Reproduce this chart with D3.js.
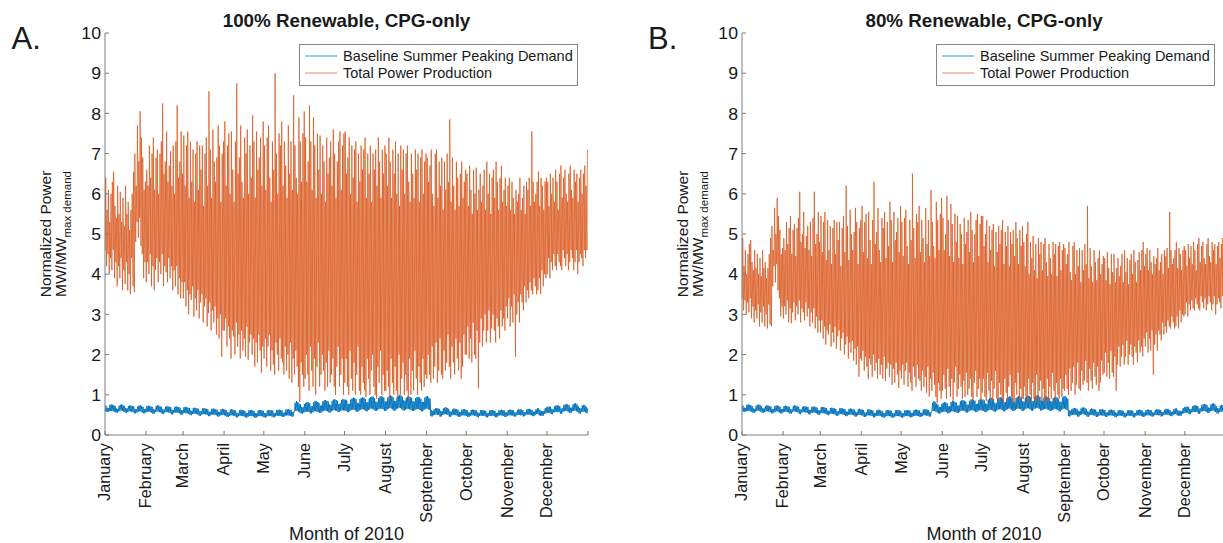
<!DOCTYPE html>
<html>
<head>
<meta charset="utf-8">
<script src="https://cdn.jsdelivr.net/npm/d3@7"></script>
<style>
  html, body { margin: 0; padding: 0; background: #fff; }
  svg { display: block; font-family: "Liberation Sans", Arial, Helvetica, sans-serif; }
</style>
</head>
<body>
<svg id="chart" width="1223" height="543"></svg>
<script>
// ---------------------------------------------------------------------------
// Data: one value per day of 2010 (Jan 1 = day 0), grouped by month.
// Production series hold the daily peak and daily trough of total output;
// the demand series holds the daily high and low of the baseline load.
// Units: MW / MW of max demand.
// ---------------------------------------------------------------------------
const monthLabels = ["January", "February", "March", "April", "May", "June",
  "July", "August", "September", "October", "November", "December"];
const monthStartDay = [0, 31, 59, 90, 120, 151, 181, 212, 243, 273, 304, 334];
const daysInYear = 365;
const yTickValues = [0, 1, 2, 3, 4, 5, 6, 7, 8, 9, 10];
const seriesNames = ["Baseline Summer Peaking Demand", "Total Power Production"];

// hour of day at which each daily extreme is placed
const demandLowHour = 4, demandHighHour = 17;
const prodLowHour = 5, prodPeakHour = 13;

// Baseline summer-peaking demand (same in both scenarios)
const demandHigh = [
  [0.73,0.68,0.67,0.75,0.76,0.75,0.74,0.72,0.66,0.65,0.73,0.75,0.76,0.74,0.72,0.67,0.66,0.72,0.74,0.73,0.72,0.71,0.65,0.64,0.71,0.73,0.74,0.72,0.70,0.64,0.65],
  [0.72,0.73,0.72,0.71,0.70,0.64,0.63,0.72,0.74,0.73,0.71,0.70,0.64,0.63,0.70,0.72,0.71,0.70,0.69,0.63,0.62,0.70,0.71,0.70,0.69,0.68,0.62,0.61],
  [0.69,0.70,0.69,0.68,0.67,0.61,0.60,0.67,0.68,0.67,0.66,0.65,0.59,0.59,0.66,0.67,0.66,0.65,0.64,0.58,0.58,0.65,0.66,0.65,0.64,0.63,0.58,0.57,0.64,0.65,0.64],
  [0.63,0.62,0.56,0.56,0.63,0.64,0.63,0.62,0.61,0.55,0.55,0.62,0.63,0.62,0.61,0.60,0.55,0.54,0.61,0.62,0.62,0.61,0.60,0.54,0.54,0.61,0.62,0.62,0.61,0.60],
  [0.55,0.54,0.61,0.62,0.62,0.61,0.61,0.55,0.55,0.62,0.63,0.63,0.62,0.61,0.55,0.56,0.63,0.64,0.64,0.63,0.62,0.57,0.58,0.80,0.84,0.82,0.78,0.76,0.70,0.69,0.77],
  [0.80,0.82,0.81,0.79,0.71,0.72,0.82,0.85,0.84,0.82,0.80,0.73,0.74,0.84,0.86,0.87,0.85,0.83,0.76,0.75,0.85,0.88,0.89,0.87,0.85,0.77,0.78,0.87,0.90,0.88],
  [0.88,0.86,0.78,0.77,0.88,0.91,0.93,0.92,0.89,0.80,0.79,0.90,0.92,0.94,0.93,0.90,0.81,0.82,0.91,0.94,0.96,0.95,0.92,0.83,0.82,0.92,0.95,0.97,0.95,0.93,0.84],
  [0.83,0.93,0.96,0.98,0.97,0.94,0.85,0.84,0.94,0.97,1.00,0.98,0.95,0.86,0.85,0.93,0.95,0.96,0.94,0.92,0.84,0.83,0.92,0.94,0.95,0.93,0.90,0.83,0.82,0.93,0.96],
  [0.97,0.93,0.90,0.62,0.60,0.64,0.66,0.67,0.66,0.65,0.60,0.59,0.66,0.68,0.69,0.67,0.65,0.59,0.58,0.64,0.66,0.65,0.64,0.63,0.58,0.57,0.63,0.64,0.64,0.63],
  [0.62,0.56,0.56,0.62,0.63,0.63,0.62,0.61,0.56,0.55,0.61,0.62,0.62,0.61,0.60,0.55,0.55,0.61,0.62,0.62,0.61,0.60,0.55,0.55,0.61,0.62,0.63,0.62,0.61,0.56,0.56],
  [0.62,0.63,0.63,0.62,0.61,0.56,0.56,0.62,0.64,0.64,0.63,0.62,0.57,0.57,0.63,0.65,0.65,0.64,0.62,0.58,0.58,0.64,0.66,0.66,0.62,0.60,0.59,0.60,0.67,0.69],
  [0.70,0.71,0.70,0.65,0.64,0.71,0.73,0.74,0.73,0.72,0.66,0.66,0.74,0.76,0.77,0.76,0.74,0.68,0.68,0.76,0.78,0.79,0.76,0.72,0.67,0.66,0.73,0.75,0.74,0.70,0.66]
].flat();

const demandLow = [
  [0.60,0.58,0.57,0.59,0.60,0.60,0.59,0.58,0.56,0.55,0.58,0.60,0.61,0.60,0.58,0.56,0.55,0.57,0.59,0.59,0.58,0.57,0.54,0.54,0.56,0.58,0.59,0.58,0.56,0.54,0.54],
  [0.57,0.58,0.58,0.57,0.56,0.53,0.53,0.57,0.59,0.58,0.57,0.56,0.53,0.52,0.56,0.57,0.57,0.56,0.55,0.52,0.51,0.55,0.56,0.56,0.55,0.54,0.51,0.50],
  [0.54,0.55,0.54,0.54,0.53,0.50,0.49,0.52,0.53,0.53,0.52,0.51,0.48,0.48,0.51,0.52,0.52,0.51,0.50,0.47,0.47,0.50,0.51,0.51,0.50,0.49,0.46,0.46,0.49,0.50,0.50],
  [0.49,0.48,0.45,0.45,0.48,0.49,0.49,0.48,0.47,0.44,0.44,0.47,0.48,0.48,0.47,0.46,0.44,0.43,0.46,0.47,0.47,0.47,0.46,0.43,0.43,0.46,0.47,0.47,0.47,0.46],
  [0.44,0.43,0.46,0.47,0.47,0.47,0.46,0.44,0.44,0.47,0.48,0.48,0.47,0.47,0.45,0.45,0.48,0.49,0.49,0.48,0.48,0.46,0.46,0.58,0.60,0.60,0.58,0.56,0.54,0.53,0.56],
  [0.57,0.58,0.58,0.57,0.54,0.54,0.57,0.59,0.59,0.58,0.57,0.55,0.55,0.58,0.60,0.61,0.60,0.59,0.56,0.56,0.59,0.61,0.62,0.61,0.60,0.57,0.57,0.60,0.62,0.61],
  [0.61,0.60,0.57,0.57,0.60,0.62,0.63,0.63,0.61,0.58,0.58,0.61,0.63,0.64,0.64,0.62,0.59,0.59,0.62,0.64,0.66,0.65,0.63,0.60,0.60,0.62,0.65,0.66,0.65,0.64,0.60],
  [0.60,0.63,0.65,0.67,0.66,0.64,0.61,0.60,0.64,0.66,0.68,0.67,0.65,0.61,0.61,0.63,0.65,0.65,0.64,0.63,0.60,0.60,0.62,0.64,0.65,0.64,0.62,0.59,0.59,0.63,0.65],
  [0.66,0.64,0.62,0.47,0.46,0.49,0.50,0.51,0.50,0.50,0.46,0.46,0.50,0.51,0.52,0.51,0.50,0.46,0.45,0.49,0.50,0.50,0.49,0.48,0.45,0.45,0.48,0.49,0.49,0.48],
  [0.48,0.45,0.45,0.48,0.49,0.49,0.48,0.48,0.45,0.44,0.47,0.48,0.48,0.48,0.47,0.44,0.44,0.47,0.48,0.48,0.48,0.47,0.44,0.44,0.48,0.49,0.49,0.48,0.48,0.45,0.45],
  [0.48,0.49,0.49,0.49,0.48,0.46,0.46,0.49,0.50,0.50,0.49,0.49,0.46,0.47,0.50,0.51,0.51,0.50,0.49,0.47,0.47,0.50,0.52,0.52,0.49,0.48,0.48,0.48,0.53,0.54],
  [0.55,0.56,0.55,0.52,0.52,0.56,0.57,0.58,0.57,0.57,0.53,0.53,0.58,0.59,0.60,0.59,0.58,0.55,0.55,0.59,0.60,0.61,0.59,0.57,0.54,0.53,0.57,0.58,0.58,0.56,0.54]
].flat();

// Total power production, 100% renewable scenario
const prodPeakA = [
  [6.4,5.6,6.1,5.3,6.0,6.3,6.55,5.7,5.4,6.2,5.5,6.05,5.3,5.9,5.2,6.2,5.5,5.8,5.1,5.6,6.0,6.55,7.0,6.2,7.7,6.8,8.05,7.4,6.9,6.1,6.3],
  [6.6,6.2,7.2,6.4,7.0,7.4,6.1,6.9,7.1,6.0,7.0,7.3,8.25,6.5,6.8,7.55,6.3,6.7,7.05,6.2,7.2,6.0,7.3,8.2,6.4,6.8,7.55,6.5],
  [7.45,6.2,7.2,7.55,5.9,7.3,6.3,7.1,5.8,7.0,7.3,6.1,7.2,6.6,7.2,5.7,7.0,7.4,6.2,8.55,7.1,5.9,7.6,6.8,6.3,6.9,7.7,7.2,5.8,7.0,7.3],
  [7.8,6.2,7.2,7.5,6.0,7.55,6.6,5.8,7.3,8.75,6.5,6.9,7.7,6.3,5.9,7.4,7.0,7.6,6.0,7.2,6.4,7.95,7.3,5.9,7.55,6.6,6.9,7.4,6.2,7.8],
  [7.2,6.1,7.4,7.7,6.4,5.8,7.3,6.6,9.0,7.0,6.0,7.5,7.2,7.8,6.2,7.3,6.7,5.9,7.7,6.5,7.3,6.1,8.45,7.2,6.4,6.0,7.9,7.3,6.3,7.5,8.05],
  [7.4,6.3,6.8,8.2,7.3,6.1,7.9,7.2,5.9,7.5,6.6,7.45,6.0,7.2,6.8,5.8,7.4,6.5,6.9,7.3,6.2,7.6,7.0,5.9,6.8,7.3,7.55,6.1,7.2,7.5],
  [7.55,6.5,6.9,7.4,6.0,7.2,6.4,7.1,7.3,5.8,7.0,6.3,7.2,6.6,7.1,7.4,5.9,7.0,6.5,7.2,5.8,7.0,6.6,7.1,6.2,7.4,6.8,5.9,7.1,6.5,7.2],
  [7.0,6.2,7.4,6.8,5.9,7.1,6.5,7.3,6.0,7.0,5.7,7.2,6.6,7.1,6.0,7.0,7.2,6.3,5.8,7.0,6.5,5.9,7.1,6.6,7.0,5.8,6.9,7.1,6.0,6.8,7.0],
  [6.9,6.3,6.7,7.1,6.0,5.7,7.0,7.1,5.9,6.8,6.2,6.9,5.6,6.8,6.1,7.0,6.3,7.85,5.8,6.9,6.2,5.6,6.8,6.4,5.7,6.5,6.8,5.9,6.3,6.6],
  [6.5,5.7,6.7,6.1,5.5,6.6,6.0,6.65,5.6,6.1,6.5,5.8,6.2,6.6,5.6,6.8,6.0,6.5,5.5,6.4,6.6,5.9,6.8,6.3,5.6,6.4,6.7,5.8,6.1,6.4,5.7],
  [6.2,6.4,5.6,6.3,5.9,5.5,6.1,5.8,6.0,6.4,5.6,5.9,6.2,5.5,6.3,6.1,6.4,5.7,7.55,6.3,5.8,6.0,6.3,6.55,5.7,6.4,6.2,5.6,6.3,6.4],
  [6.3,5.7,6.5,6.0,6.4,5.8,6.6,6.3,5.6,6.5,6.7,5.9,6.4,6.6,6.0,5.8,6.5,6.7,6.1,5.9,6.6,6.3,6.5,5.8,6.4,6.6,6.0,6.5,6.7,6.2,7.1]
].flat();

const prodLowA = [
  [4.6,4.2,4.5,4.0,4.4,4.1,4.6,3.9,4.3,3.7,4.2,3.9,4.4,3.6,4.1,3.75,4.3,3.6,4.0,3.5,4.4,3.7,3.55,4.8,5.3,4.9,5.4,4.7,4.5,3.9,4.3],
  [3.8,4.3,4.0,4.5,3.7,4.2,3.6,4.1,4.4,3.8,4.3,4.0,4.5,3.7,4.2,4.05,3.8,4.4,3.9,4.2,3.6,4.1,3.7,4.2,3.5,3.9,3.4,3.8],
  [3.4,3.8,3.2,3.6,3.0,3.5,3.36,3.7,2.94,3.4,3.1,3.6,2.9,3.3,3.5,2.8,3.2,3.4,2.7,3.03,3.3,2.6,3.1,2.8,3.2,2.5,2.9,2.4,3.0,1.95,2.6],
  [2.6,2.9,2.2,2.7,2.4,1.9,2.6,2.45,2.0,2.8,2.2,2.5,1.9,2.6,2.1,2.4,1.95,2.7,1.87,2.3,2.5,2.0,2.4,1.7,2.3,1.8,2.5,2.1,1.55,2.2],
  [1.9,2.4,1.7,2.2,2.5,1.6,2.1,1.75,1.5,2.3,2.0,1.6,2.4,1.9,1.8,1.5,2.2,1.6,2.0,1.4,2.3,1.3,1.9,1.5,2.1,1.7,1.2,0.83,1.8,1.5,1.2],
  [1.4,2.0,1.5,1.1,2.2,1.6,1.2,1.9,1.0,1.7,2.3,1.2,1.5,2.0,1.6,1.1,1.8,1.2,2.1,1.3,1.5,1.9,1.2,1.0,1.7,2.2,1.2,1.5,1.9,1.0],
  [1.3,1.9,1.2,1.0,2.1,1.4,1.1,1.8,1.0,1.5,2.2,1.1,1.0,1.7,1.3,1.1,0.95,1.9,1.4,1.0,1.6,2.0,1.2,1.0,0.9,1.7,1.3,2.1,1.0,1.5,1.1],
  [1.1,1.6,1.2,0.9,1.9,1.3,1.0,1.7,1.1,0.95,2.0,1.0,1.4,1.8,1.0,1.5,1.1,0.9,1.9,1.0,1.6,1.1,2.1,1.4,1.0,1.7,1.3,1.1,1.9,1.2,1.5],
  [1.4,2.0,1.5,1.3,2.2,1.4,1.7,2.3,1.3,1.6,2.4,1.5,1.4,2.1,1.6,1.8,2.5,1.7,1.4,2.2,1.8,1.5,2.4,1.9,1.6,2.3,1.4,1.7,2.5,2.0],
  [2.0,2.7,1.9,2.4,1.8,2.8,2.0,1.9,2.6,1.16,2.3,2.9,2.2,2.6,3.0,2.3,2.6,3.1,2.3,2.65,3.0,2.6,2.3,2.9,2.7,2.4,3.1,2.7,2.9,2.6,3.2],
  [2.9,3.4,2.7,3.2,2.8,3.5,1.95,3.0,3.3,2.8,3.5,3.3,3.1,3.7,3.3,3.6,3.4,3.8,3.6,3.5,3.9,3.7,3.5,3.6,3.9,3.5,4.1,3.7,4.0,3.9],
  [4.0,4.4,3.9,4.3,4.1,4.5,4.2,4.1,4.5,4.3,4.2,4.1,4.6,4.4,4.2,4.5,4.1,4.3,4.6,4.4,4.1,4.3,4.6,4.0,4.3,4.5,4.4,4.2,4.6,4.4,4.6]
].flat();

// Total power production, 80% renewable scenario
const prodPeakB = [
  [4.9,4.2,4.6,4.0,4.5,4.75,4.85,4.3,4.1,4.6,4.15,4.5,4.0,4.4,3.95,4.6,4.15,4.3,3.9,4.15,4.5,4.9,5.2,4.6,5.65,5.0,5.9,5.45,5.1,4.5,4.65],
  [4.9,4.6,5.3,4.75,5.15,5.45,4.5,5.1,5.25,4.45,5.15,5.4,6.05,4.8,5.0,5.55,4.65,4.95,5.2,4.6,5.3,4.45,5.4,6.05,4.75,5.0,5.55,4.8],
  [5.45,4.55,5.3,5.55,4.35,5.35,4.6,5.2,4.25,5.15,5.35,4.5,5.3,4.85,5.3,4.2,5.15,5.45,4.55,6.2,5.2,4.35,5.6,5.0,4.6,5.05,5.65,5.3,4.25,5.15,5.35],
  [5.7,4.55,5.3,5.5,4.4,5.55,4.85,4.25,5.35,6.3,4.75,5.05,5.65,4.6,4.3,5.4,5.15,5.55,4.4,5.3,4.7,5.8,5.35,4.3,5.55,4.85,5.05,5.4,4.55,5.7],
  [5.3,4.45,5.4,5.6,4.7,4.25,5.35,4.85,6.5,5.15,4.4,5.5,5.3,5.7,4.55,5.35,4.9,4.3,5.65,4.75,5.35,4.45,6.1,5.3,4.7,4.4,5.8,5.35,4.6,5.5,5.9],
  [5.4,4.6,5.0,5.95,5.35,4.45,5.75,5.25,4.3,5.5,4.8,5.45,4.4,5.25,5.0,4.25,5.4,4.75,5.05,5.35,4.55,5.55,5.1,4.3,5.0,5.35,5.5,4.45,5.25,5.45],
  [5.45,4.7,5.0,5.35,4.3,5.2,4.6,5.1,5.25,4.2,5.05,4.55,5.2,4.75,5.1,5.35,4.25,5.05,4.7,5.2,4.2,5.05,4.75,5.1,4.45,5.3,4.9,4.25,5.1,4.7,5.2],
  [4.8,4.2,5.0,5.3,4.0,4.8,4.4,4.95,4.1,4.75,3.9,4.9,4.5,4.8,4.1,4.75,4.9,4.3,3.95,4.75,4.4,4.0,4.8,4.5,4.75,3.95,4.7,4.8,4.1,4.6,4.75],
  [4.65,4.25,4.5,4.8,4.05,3.85,4.7,4.8,4.0,4.6,4.2,4.65,3.8,4.6,4.1,4.75,4.25,5.7,3.9,4.65,4.2,3.8,4.6,4.3,3.85,4.4,4.6,4.0,4.25,4.45],
  [4.4,3.85,4.55,4.15,3.75,4.5,4.05,4.5,3.8,4.15,4.4,3.95,4.2,4.5,3.8,4.6,4.05,4.4,3.75,4.35,4.5,4.0,4.6,4.3,3.8,4.35,4.55,4.1,4.6,4.8,4.2],
  [4.5,4.65,4.1,4.6,4.3,4.0,4.45,4.25,4.4,4.65,4.1,4.3,4.5,4.0,4.6,4.45,4.65,4.15,5.55,4.6,4.25,4.4,4.6,4.8,4.15,4.65,4.5,4.1,4.6,4.7],
  [4.6,4.2,4.75,4.4,4.7,4.25,4.8,4.6,4.1,4.75,4.9,4.3,4.7,4.8,4.4,4.25,4.75,4.9,4.45,4.3,4.8,4.6,4.75,4.25,4.7,4.8,4.4,4.75,4.9,4.55,5.0]
].flat();

const prodLowB = [
  [3.4,3.1,3.35,3.0,3.3,3.05,3.4,2.9,3.2,2.8,3.1,2.9,3.25,2.7,3.05,2.8,3.2,2.7,3.0,2.65,3.25,2.75,2.7,3.7,4.2,3.8,4.25,3.6,3.4,2.95,3.2],
  [2.9,3.2,3.0,3.35,2.8,3.15,2.78,3.05,3.3,2.85,3.2,3.0,3.35,2.8,3.15,3.05,2.85,3.3,2.95,3.15,2.7,3.05,2.8,3.15,2.65,2.95,2.55,2.85],
  [2.55,2.85,2.4,2.7,2.25,2.6,2.5,2.75,2.2,2.55,2.3,2.7,2.15,2.45,2.6,2.1,2.4,2.55,2.0,2.25,2.45,1.9,2.3,2.05,2.35,1.85,2.15,1.75,2.2,1.45,1.9],
  [1.85,2.1,1.6,1.95,1.7,1.4,1.9,1.75,1.45,2.0,1.6,1.8,1.4,1.9,1.5,1.75,1.4,1.95,1.35,1.65,1.8,1.45,1.75,1.25,1.65,1.3,1.8,1.5,1.17,1.6],
  [1.4,1.75,1.25,1.6,1.8,1.2,1.55,1.3,1.1,1.7,1.45,1.2,1.75,1.4,1.35,1.1,1.6,1.2,1.45,1.05,1.7,0.96,1.4,1.1,1.55,1.25,0.95,0.8,1.3,1.1,0.9],
  [1.1,1.5,1.15,0.9,1.65,1.2,0.95,1.4,0.85,1.3,1.7,0.95,1.15,1.5,1.2,0.9,1.35,0.95,1.55,1.0,1.15,1.4,0.95,0.85,1.3,1.6,0.95,1.15,1.4,0.85],
  [1.05,1.4,0.95,0.85,1.55,1.1,0.9,1.35,0.85,1.15,1.6,0.9,0.85,1.3,1.0,0.9,0.8,1.4,1.05,0.85,1.2,1.5,0.95,0.85,0.8,1.3,1.0,1.55,0.85,1.15,0.9],
  [0.9,1.2,0.95,0.8,1.4,1.0,0.85,1.3,0.9,0.8,1.5,0.85,1.1,1.35,0.85,1.15,0.9,0.8,1.4,0.85,1.2,0.9,1.55,1.1,0.85,1.3,1.0,0.9,1.4,0.95,1.15],
  [1.1,1.5,1.15,1.0,1.65,1.1,1.3,1.7,1.0,1.25,1.8,1.15,1.1,1.6,1.25,1.35,1.85,1.3,1.1,1.65,1.35,1.15,1.8,1.45,1.25,1.7,1.1,1.3,1.85,1.5],
  [1.55,2.05,1.45,1.8,1.4,2.1,1.55,1.45,1.95,1.1,1.75,2.2,1.7,1.95,2.25,1.75,1.95,2.35,1.75,2.0,2.25,1.95,1.75,2.2,2.05,1.8,2.35,2.05,2.2,1.95,2.4],
  [2.2,2.55,2.05,2.4,2.1,2.6,1.5,2.25,2.5,2.1,2.6,2.5,2.35,2.8,2.5,2.7,2.55,2.85,2.7,2.65,2.95,2.8,2.65,2.7,2.95,2.65,3.1,2.8,3.0,2.95],
  [3.0,3.3,2.95,3.25,3.1,3.35,3.15,3.1,3.4,3.25,3.15,3.1,3.45,3.3,3.15,3.4,3.1,3.25,3.45,3.3,3.1,3.25,3.45,3.0,3.25,3.4,3.3,3.15,3.45,3.3,3.5]
].flat();

// ---------------------------------------------------------------------------
// Layout and styling
// ---------------------------------------------------------------------------
const colors = { demand: "#0072BD", production: "#D95319", axis: "#7d7d7d", text: "#1a1a1a" };
const plotTop = 33, plotBottom = 435;

const panels = [
  { letter: "A.", title: "100% Renewable, CPG-only", peak: prodPeakA, low: prodLowA,
    left: 105, right: 588, letterX: 11.5, legendLeft: 299 },
  { letter: "B.", title: "80% Renewable, CPG-only", peak: prodPeakB, low: prodLowB,
    left: 742, right: 1226, letterX: 648, legendLeft: 936 }
];

const svg = d3.select("#chart");

// text helper: optional horizontal stretch and rotation about the anchor point
function addText(g, x, y, str, o = {}) {
  const sx = o.sx || 1, rot = o.rotate || 0;
  return g.append("text")
    .attr("transform", `translate(${x},${y}) scale(${sx},1) rotate(${rot})`)
    .attr("text-anchor", o.anchor || "start")
    .attr("font-size", o.size || 16)
    .attr("font-weight", o.weight || "normal")
    .attr("fill", o.fill || colors.text)
    .attr("dy", o.dy || null)
    .text(str);
}

// daily extremes become an alternating low / high polyline through the year
function dailyPoints(lowArr, highArr, lowHour, highHour) {
  return lowArr.flatMap((v, d) => [[d + lowHour / 24, v], [d + highHour / 24, highArr[d]]]);
}

panels.forEach(p => {
  const g = svg.append("g");
  const x = d3.scaleLinear().domain([0, daysInYear]).range([p.left, p.right]);
  const y = d3.scaleLinear().domain([0, 10]).range([plotBottom, plotTop]);
  const line = d3.line().x(d => x(d[0])).y(d => y(d[1]));

  // series
  g.append("path")
    .datum(dailyPoints(demandLow, demandHigh, demandLowHour, demandHighHour))
    .attr("d", line).attr("fill", "none")
    .attr("stroke", colors.demand).attr("stroke-width", 1.0).attr("stroke-opacity", 0.92)
    .attr("stroke-linejoin", "round");

  g.append("path")
    .datum(dailyPoints(p.low, p.peak, prodLowHour, prodPeakHour))
    .attr("d", line).attr("fill", "none")
    .attr("stroke", colors.production).attr("stroke-width", 0.8).attr("stroke-opacity", 0.9)
    .attr("stroke-linejoin", "round");

  // axes (left and bottom only, ticks pointing inward)
  const ax = g.append("g").attr("stroke", colors.axis).attr("stroke-width", 1).attr("fill", "none");
  ax.append("line").attr("x1", p.left).attr("x2", p.left).attr("y1", plotTop).attr("y2", plotBottom);
  ax.append("line").attr("x1", p.left).attr("x2", p.right).attr("y1", plotBottom).attr("y2", plotBottom);

  yTickValues.forEach(v => {
    ax.append("line").attr("x1", p.left).attr("x2", p.left + 4).attr("y1", y(v)).attr("y2", y(v));
    addText(g, p.left - 4, y(v), String(v), { anchor: "end", size: 17, sx: 1.04, dy: "0.36em" });
  });

  monthStartDay.concat([daysInYear]).forEach(d => {
    ax.append("line").attr("x1", x(d)).attr("x2", x(d)).attr("y1", plotBottom).attr("y2", plotBottom - 4);
  });
  monthStartDay.forEach((d, i) => {
    addText(g, x(d), plotBottom + 8, monthLabels[i],
      { anchor: "end", size: 16.3, rotate: -90, dy: "0.33em" });
  });

  // labels
  const mid = (p.left + p.right) / 2;
  addText(g, mid, 26.5, p.title, { anchor: "middle", size: 17.5, weight: "bold", sx: 1.075 });
  addText(g, p.letterX, 49.3, p.letter, { size: 31 });
  addText(g, mid, 539.5, "Month of 2010", { size: 18, anchor: "middle" });

  const yMid = (plotTop + plotBottom) / 2;
  addText(g, p.left - 54, yMid, "Normalized Power", { anchor: "middle", size: 15.5, rotate: -90 });
  const yl2 = g.append("text")
    .attr("transform", `translate(${p.left - 39},${yMid}) rotate(-90)`)
    .attr("text-anchor", "middle").attr("font-size", 15.5).attr("fill", colors.text);
  yl2.append("tspan").text("MW/MW");
  yl2.append("tspan").attr("font-size", 11.5).attr("dy", 5).text("max demand");

  // legend
  const lg = g.append("g");
  lg.append("rect").attr("x", p.legendLeft + 0.5).attr("y", 44.5).attr("width", 278).attr("height", 41)
    .attr("fill", "#fff").attr("stroke", "#858585").attr("stroke-width", 1);
  const legendColors = ["#5ea6d8", "#ec9a78"];
  seriesNames.forEach((name, i) => {
    const ly = 56 + i * 17;
    lg.append("line").attr("x1", p.legendLeft + 6).attr("x2", p.legendLeft + 38)
      .attr("y1", ly).attr("y2", ly).attr("stroke", legendColors[i]).attr("stroke-width", 1.2);
    addText(lg, p.legendLeft + 44, ly + 5, name, { size: 14.5 });
  });
});
</script>
</body>
</html>
